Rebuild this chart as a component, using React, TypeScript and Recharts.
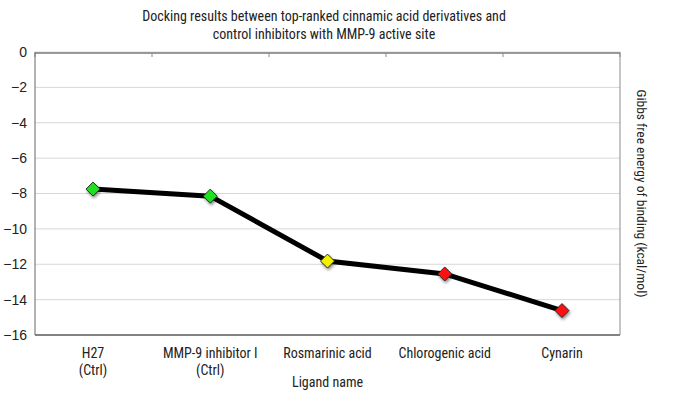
import React from 'react';
import { LineChart, Line, XAxis, YAxis, CartesianGrid, Label, ReferenceLine } from 'recharts';

const ligands = ['H27|(Ctrl)', 'MMP-9 inhibitor I|(Ctrl)', 'Rosmarinic acid', 'Chlorogenic acid', 'Cynarin'];
const energies = [-7.75, -8.15, -11.82, -12.55, -14.62];
const markerColors = ['#1ee01e', '#1ee01e', '#f2f200', '#ff1010', '#ff1010'];
const yTicks = [0, -2, -4, -6, -8, -10, -12, -14, -16];

const data = ligands.map((name, i) => ({ name, energy: energies[i], color: markerColors[i] }));

const NARROW = '"Liberation Sans Narrow", "Roboto Condensed", "DejaVu Sans Condensed", Roboto, sans-serif';

const Diamond = (props: any) => {
  const { cx, cy, payload } = props;
  if (cx == null || cy == null) return null;
  const r = 7;
  return (
    <polygon
      points={`${cx},${cy - r} ${cx + r},${cy} ${cx},${cy + r} ${cx - r},${cy}`}
      fill={payload.color}
      stroke="#2a2a2a"
      strokeWidth={1}
      style={{ filter: 'drop-shadow(1px 2px 1.5px rgba(0,0,0,0.45))' }}
    />
  );
};

const LigandTick = (props: any) => {
  const { x, y, payload } = props;
  const lines = String(payload.value).split('|');
  return (
    <text x={x} y={y + 15} textAnchor="middle" fill="#222" fontSize={14} fontFamily={NARROW}>
      {lines.map((l, i) => (
        <tspan key={i} x={x} dy={i === 0 ? 0 : 17}>{l}</tspan>
      ))}
    </text>
  );
};

// top border (category axis crossing at 0) with tick marks between the categories
const TopAxisShape = (props: any) => {
  const { x1, y1, x2 } = props;
  if (x1 == null) return null;
  const n = ligands.length;
  const step = (x2 - x1) / n;
  const y = y1 + 1;
  return (
    <g>
      <line x1={x1} y1={y} x2={x2} y2={y} stroke="#7a7a7a" strokeWidth={1.4} />
      {Array.from({ length: n + 1 }, (_, k) => (
        <line key={k} x1={x1 + k * step} y1={y} x2={x1 + k * step} y2={y + 4} stroke="#8a8a8a" />
      ))}
    </g>
  );
};

const App: React.FC = () => {
  return (
    <div style={{ position: 'absolute', left: 0, top: 0, width: 676, height: 402, background: '#fff' }}>
      <div
        style={{
          position: 'absolute', left: 0, top: 7, width: 648, textAlign: 'center',
          fontFamily: NARROW, fontSize: 14, lineHeight: '18px', color: '#222',
        }}
      >
        Docking results between top-ranked cinnamic acid derivatives and
        <br />
        control inhibitors with MMP-9 active site
      </div>
      <LineChart width={676} height={402} data={data} margin={{ top: 52, right: 0, bottom: 0, left: 0 }}>
        <CartesianGrid vertical={false} stroke="#d8d8d8" yAxisId="left" />
        <XAxis
          dataKey="name"
          height={67}
          padding={{ left: 58, right: 58 }}
          axisLine={{ stroke: '#1a1a1a', strokeWidth: 1.2 }}
          tickLine={false}
          tick={<LigandTick />}
          interval={0}
        >
          <Label
            content={({ viewBox }: any) => (
              <text x={viewBox.x + viewBox.width / 2} y={viewBox.y + 52} textAnchor="middle" fill="#222" fontSize={14} fontFamily={NARROW}>
                Ligand name
              </text>
            )}
          />
        </XAxis>
        <YAxis
          yAxisId="left"
          width={35}
          domain={[-16, 0]}
          ticks={yTicks}
          axisLine={{ stroke: '#666' }}
          tickLine={false}
          tickFormatter={(v: number) => (v < 0 ? '\u2212' + Math.abs(v) : String(v))}
          tick={{ fill: '#222', fontSize: 14, fontFamily: '"Liberation Sans", Arial, sans-serif' }}
        />
        <YAxis
          yAxisId="right"
          orientation="right"
          width={56}
          domain={[-16, 0]}
          ticks={yTicks}
          tickSize={5}
          axisLine={{ stroke: '#8a8a8a' }}
          tickLine={{ stroke: '#b0b0b0' }}
          tickFormatter={() => ''}
        >
          <Label
            content={({ viewBox }: any) => {
              const lx = viewBox.x + 22;
              const ly = viewBox.y + viewBox.height / 2;
              return (
                <text x={lx} y={ly} transform={`rotate(90, ${lx}, ${ly})`} textAnchor="middle" dominantBaseline="central" fill="#222" fontSize={13.5} fontFamily={NARROW}>
                  Gibbs free energy of binding (kcal/mol)
                </text>
              );
            }}
          />
        </YAxis>
        <ReferenceLine yAxisId="left" y={0} ifOverflow="visible" shape={<TopAxisShape />} />
        <Line
          yAxisId="left"
          dataKey="energy"
          stroke="#000"
          strokeWidth={5}
          dot={<Diamond />}
          activeDot={false}
          isAnimationActive={false}
        />
      </LineChart>
    </div>
  );
};

export default App;
